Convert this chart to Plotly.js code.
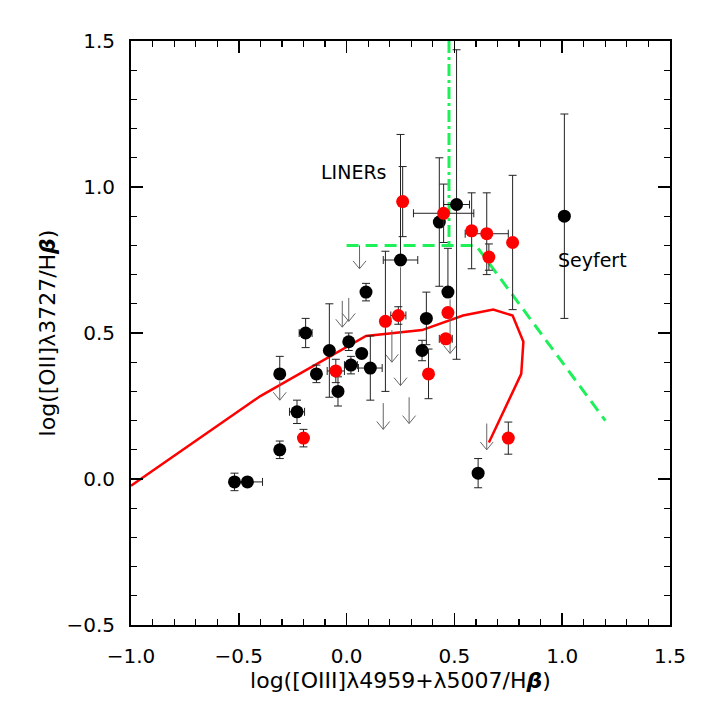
<!DOCTYPE html>
<html>
<head>
<meta charset="utf-8">
<script src="https://cdn.plot.ly/plotly-3.0.1.min.js"></script>
<style>html,body{margin:0;padding:0;background:#fff;}#chart{width:709px;height:709px;}</style>
</head>
<body>
<div id="chart"></div>
<script>
// Black points (sample A)
const blackX    = [-0.52, -0.46, -0.31, -0.31, -0.23, -0.19, -0.14, -0.08, -0.04, 0.01, 0.02, 0.07, 0.09, 0.11, 0.25, 0.35, 0.37, 0.43, 0.47, 0.51, 0.61, 1.01];
const blackY    = [-0.01, -0.01, 0.10, 0.36, 0.23, 0.50, 0.36, 0.44, 0.30, 0.47, 0.39, 0.43, 0.64, 0.38, 0.75, 0.44, 0.55, 0.88, 0.64, 0.94, 0.02, 0.90];
const blackYErrP= [0.03, 0.00, 0.03, 0.06, 0.04, 0.05, 0.03, 0.16, 0.05, 0.03, 0.03, 0.00, 0.03, 0.11, 0.43, 0.035, 0.09, 0.22, 0.15, 0.53, 0.05, 0.35];
const blackYErrM= [0.03, 0.00, 0.03, 0.00, 0.04, 0.05, 0.03, 0.16, 0.05, 0.03, 0.03, 0.00, 0.03, 0.11, 0.00, 0.035, 0.09, 0.22, 0.00, 0.53, 0.05, 0.35];
const blackXErr = [0.00, 0.07, 0.00, 0.00, 0.035, 0.03, 0.00, 0.00, 0.00, 0.00, 0.03, 0.00, 0.00, 0.055, 0.08, 0.00, 0.00, 0.00, 0.00, 0.06, 0.00, 0.02];

// Red points (sample B)
const redX    = [-0.20, -0.05, 0.18, 0.24, 0.26, 0.38, 0.45, 0.46, 0.47, 0.58, 0.65, 0.66, 0.75, 0.77];
const redY    = [0.14, 0.37, 0.54, 0.56, 0.95, 0.36, 0.91, 0.48, 0.57, 0.85, 0.84, 0.76, 0.14, 0.81];
const redYErr = [0.03, 0.04, 0.24, 0.03, 0.12, 0.085, 0.10, 0.00, 0.00, 0.13, 0.14, 0.045, 0.055, 0.23];
const redXErr = [0.00, 0.04, 0.00, 0.035, 0.00, 0.00, 0.14, 0.03, 0.00, 0.00, 0.10, 0.00, 0.00, 0.00];

// Upper-limit arrows
const arrowX    = [0.06, -0.02, 0.01, 0.21, 0.17, 0.29, 0.65, -0.31, 0.25, 0.48];
const arrowFrom = [0.80, 0.61, 0.62, 0.51, 0.26, 0.28, 0.19, 0.335, 0.725, 0.615];
const arrowTo   = [0.72, 0.52, 0.54, 0.40, 0.17, 0.19, 0.10, 0.27, 0.32, 0.43];

// Model curve
const modelX = [-1.0, -0.40, 0.09, 0.35, 0.54, 0.68, 0.77, 0.82, 0.81, 0.66];
const modelY = [-0.023, 0.284, 0.49, 0.51, 0.56, 0.58, 0.56, 0.47, 0.36, 0.125];

// Dividing lines
const divDashX = [0.0, 0.6, 1.2];
const divDashY = [0.8, 0.8, 0.2];
const divDotX  = [0.475, 0.475];
const divDotY  = [1.5, 0.8];

const FONT = "DejaVu Sans";
const green = "#1ef05a";

// arrow glyphs built from the arrow arrays (head size in data units)
const headHalfW = 0.03, headDepth = 0.027;
const arrX = [], arrY = [];
arrowX.forEach((xv, i) => {
  arrX.push(xv, xv, null, xv - headHalfW, xv, xv + headHalfW, null);
  arrY.push(arrowFrom[i], arrowTo[i], null, arrowTo[i] + headDepth, arrowTo[i], arrowTo[i] + headDepth, null);
});

const traces = [
  {x: divDashX, y: divDashY, mode: 'lines', line: {color: green, width: 3, dash: '12px,7px'}, hoverinfo: 'skip'},
  {x: divDotX, y: divDotY, mode: 'lines', line: {color: green, width: 3, dash: '12px,4px,3px,4px'}, hoverinfo: 'skip'},
  {x: modelX, y: modelY, mode: 'lines', line: {color: '#ff0000', width: 2.5}, hoverinfo: 'skip'},
  {x: arrX, y: arrY, mode: 'lines', line: {color: '#666', width: 1}, connectgaps: false, hoverinfo: 'skip'},
  {x: blackX, y: blackY, mode: 'markers', marker: {color: '#000', size: 13},
   error_y: {type: 'data', symmetric: false, array: blackYErrP, arrayminus: blackYErrM, color: '#222', thickness: 1, width: 4},
   error_x: {type: 'data', array: blackXErr, color: '#222', thickness: 1, width: 4}},
  {x: redX, y: redY, mode: 'markers', marker: {color: '#ff0000', size: 13},
   error_y: {type: 'data', array: redYErr, color: '#222', thickness: 1, width: 4},
   error_x: {type: 'data', array: redXErr, color: '#222', thickness: 1, width: 4}}
];

const annotations = [
  {x: 0.035, y: 1.05, xref: 'x', yref: 'y', text: 'LINERs', showarrow: false, font: {family: FONT, size: 19, color: '#000'}},
  {x: 1.14, y: 0.75, xref: 'x', yref: 'y', text: 'Seyfert', showarrow: false, font: {family: FONT, size: 19, color: '#000'}}
];

const axisCommon = {
  ticks: 'inside', ticklen: 12, tickwidth: 1.5, tickcolor: '#000',
  showline: true, linewidth: 2, linecolor: '#000', mirror: 'ticks',
  showgrid: false, zeroline: false, tickformat: '.1f',
  tickfont: {family: FONT, size: 20, color: '#000'},
  minor: {ticks: 'inside', ticklen: 6, tickwidth: 1.2, tickcolor: '#000', showgrid: false}
};

const layout = {
  width: 709, height: 709,
  margin: {l: 131, r: 39, t: 41, b: 84},
  paper_bgcolor: '#fff', plot_bgcolor: '#fff',
  showlegend: false,
  font: {family: FONT, color: '#000'},
  xaxis: Object.assign({}, axisCommon, {
    range: [-1.0, 1.5], tick0: -1.0, dtick: 0.5, ticklabelstandoff: 12,
    minor: Object.assign({}, axisCommon.minor, {dtick: 0.1}),
    title: {text: 'log([OIII]λ4959+λ5007/H<b><i>β</i></b>)', font: {family: FONT, size: 22, color: '#000'}, standoff: 5}
  }),
  yaxis: Object.assign({}, axisCommon, {
    range: [-0.5, 1.5], tick0: -0.5, dtick: 0.5, ticklabelstandoff: 10,
    minor: Object.assign({}, axisCommon.minor, {dtick: 0.1}),
    title: {text: 'log([OII]λ3727/H<b><i>β</i></b>)', font: {family: FONT, size: 22, color: '#000'}, standoff: 5}
  }),
  annotations: annotations
};

Plotly.newPlot('chart', traces, layout, {displayModeBar: false, staticPlot: true});
</script>
</body>
</html>
